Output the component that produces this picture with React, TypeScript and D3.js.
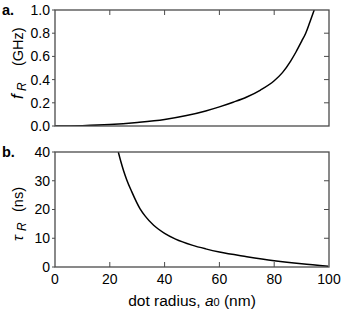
import { useEffect } from 'react';
import * as d3 from 'd3';

// values
const fRadius = [0, 10, 20, 30, 40, 48, 55, 60, 65, 70, 75, 80, 83, 86, 88, 90, 91.5, 93, 94.6];
const fValues = [0, 0.003, 0.012, 0.03, 0.056, 0.09, 0.13, 0.165, 0.205, 0.25, 0.31, 0.39, 0.46, 0.56, 0.64, 0.73, 0.8, 0.895, 1.0];

const tauRadius = [23.1, 24, 25, 26.2, 28, 31, 33, 36, 40, 44, 50, 55, 60, 70, 80, 90, 99.7];
const tauValues = [40, 36.8, 33.6, 30.3, 26.2, 20.3, 17.6, 14.5, 11.7, 9.7, 7.6, 6.3, 5.2, 3.6, 2.2, 1.1, 0.25];

const xTicks = [0, 20, 40, 60, 80, 100];
const fTicks = [0, 0.2, 0.4, 0.6, 0.8, 1.0];
const tauTicks = [0, 10, 20, 30, 40];

const W = 346;
const H = 314;
const left = 55;
const right = 329;
const topA = 10;
const bottomA = 126;
const topB = 152;
const bottomB = 267;

const font = '"Liberation Sans", Arial, Helvetica, sans-serif';
const frame = '#4a4a4a';

const App = () => {
  useEffect(() => {
    document.body.style.margin = '0';
  }, []);

  const x = d3.scaleLinear().domain([0, 100]).range([left, right]);
  const yA = d3.scaleLinear().domain([0, 1]).range([bottomA, topA]);
  const yB = d3.scaleLinear().domain([0, 40]).range([bottomB, topB]);

  const lineA = d3
    .line<number>()
    .x((_, i) => x(fRadius[i]))
    .y((d) => yA(d))
    .curve(d3.curveMonotoneX);
  const lineB = d3
    .line<number>()
    .x((_, i) => x(tauRadius[i]))
    .y((d) => yB(d))
    .curve(d3.curveMonotoneX);

  const inner = xTicks.slice(1, -1);
  const rot = (tx: number, ty: number) => `translate(${tx},${ty}) rotate(-90)`;

  return (
    <svg width={W} height={H} style={{ display: 'block', background: '#fff' }} fontFamily={font}>
      <defs>
        <clipPath id='clipA'>
          <rect x={left} y={topA} width={right - left} height={bottomA - topA} />
        </clipPath>
        <clipPath id='clipB'>
          <rect x={left} y={topB} width={right - left} height={bottomB - topB} />
        </clipPath>
      </defs>

      {/* panel a */}
      <path d={lineA(fValues) || ''} fill='none' stroke='#000' strokeWidth={1.5} clipPath='url(#clipA)' />
      <rect x={left} y={topA} width={right - left} height={bottomA - topA} fill='none' stroke={frame} strokeWidth={1.3} />
      {inner.map((t) => (
        <line key={'at' + t} x1={x(t)} x2={x(t)} y1={topA} y2={topA + 5} stroke={frame} strokeWidth={1} />
      ))}
      {fTicks.map((t) => (
        <g key={'af' + t}>
          <line x1={left - 3} x2={left} y1={yA(t)} y2={yA(t)} stroke={frame} strokeWidth={1} />
          {t > 0 && t < 1 && (
            <line x1={right - 5} x2={right} y1={yA(t)} y2={yA(t)} stroke={frame} strokeWidth={1} />
          )}
          <text x={left - 5} y={yA(t)} dy='0.35em' textAnchor='end' fontSize={14}>
            {t.toFixed(1)}
          </text>
        </g>
      ))}
      <text x={2} y={15} fontSize={14.5} fontWeight='bold'>a.</text>
      <text transform={rot(23, 99)} fontSize={17} fontStyle='italic'>f</text>
      <text transform={rot(26, 91)} fontSize={12} fontStyle='italic'>R</text>
      <text transform={rot(23, 66)} fontSize={14.5}>(GHz)</text>

      {/* panel b */}
      <path d={lineB(tauValues) || ''} fill='none' stroke='#000' strokeWidth={1.5} clipPath='url(#clipB)' />
      <rect x={left} y={topB} width={right - left} height={bottomB - topB} fill='none' stroke={frame} strokeWidth={1.3} />
      {inner.map((t) => (
        <line key={'bt' + t} x1={x(t)} x2={x(t)} y1={bottomB} y2={bottomB - 5} stroke={frame} strokeWidth={1} />
      ))}
      {tauTicks.map((t) => (
        <g key={'bf' + t}>
          <line x1={left - 3} x2={left} y1={yB(t)} y2={yB(t)} stroke={frame} strokeWidth={1} />
          {t > 0 && t < 40 && (
            <line x1={right - 5} x2={right} y1={yB(t)} y2={yB(t)} stroke={frame} strokeWidth={1} />
          )}
          <text x={left - 5} y={yB(t)} dy='0.35em' textAnchor='end' fontSize={14}>
            {t}
          </text>
        </g>
      ))}
      {xTicks.map((t) => (
        <text key={'xl' + t} x={x(t)} y={bottomB + 17} textAnchor='middle' fontSize={14}>
          {t}
        </text>
      ))}
      <text x={2} y={157} fontSize={14.5} fontWeight='bold'>b.</text>
      <text transform={rot(23, 241)} fontSize={15.5} fontStyle='italic'>τ</text>
      <text transform={rot(26, 231)} fontSize={12} fontStyle='italic'>R</text>
      <text transform={rot(23, 212)} fontSize={14.5}>(ns)</text>

      <text x={(left + right) / 2} y={306} textAnchor='middle' fontSize={15.5}>
        dot radius, <tspan fontStyle='italic'>a</tspan>
        <tspan fontSize={11}>0</tspan> (nm)
      </text>
    </svg>
  );
};

export default App;
